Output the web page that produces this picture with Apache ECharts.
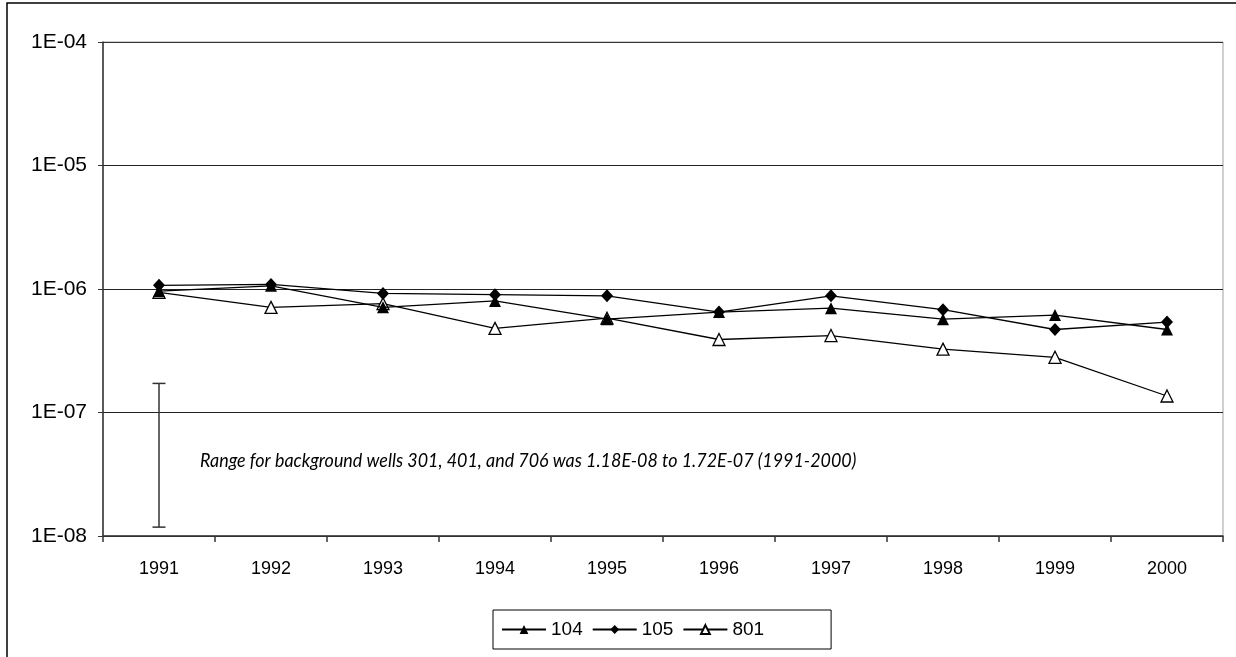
<!DOCTYPE html>
<html>
<head>
<meta charset="utf-8">
<script src="https://cdn.jsdelivr.net/npm/echarts@6/dist/echarts.min.js"></script>
<style>html,body{margin:0;padding:0;background:#fff;}#c{width:1236px;height:657px;}</style>
</head>
<body>
<div id="c"></div>
<script>
const years = ['1991','1992','1993','1994','1995','1996','1997','1998','1999','2000'];
const s104 = [9.6e-7, 1.06e-6, 7.1e-7, 8.0e-7, 5.7e-7, 6.5e-7, 7.0e-7, 5.7e-7, 6.15e-7, 4.7e-7];
const s105 = [1.07e-6, 1.09e-6, 9.2e-7, 9.0e-7, 8.8e-7, 6.5e-7, 8.8e-7, 6.8e-7, 4.7e-7, 5.4e-7];
const s801 = [9.4e-7, 7.1e-7, 7.6e-7, 4.8e-7, 5.8e-7, 3.9e-7, 4.2e-7, 3.26e-7, 2.8e-7, 1.36e-7];
const bgRange = [['1991', 1.18e-8, 1.72e-7]];
const yTickLabels = ['1E-08','1E-07','1E-06','1E-05','1E-04'];
const noteText = 'Range for background wells 301, 401, and 706 was 1.18E-08 to 1.72E-07 (1991-2000)';

const chart = echarts.init(document.getElementById('c'));
const lineW = 1.3;
chart.setOption({
  animation: false,
  textStyle: { fontFamily: 'Liberation Sans' },
  graphic: [
    { type: 'rect', shape: { x: 7, y: 3, width: 1300, height: 700 }, style: { fill: 'none', stroke: '#000', lineWidth: 1.5 }, z: 100 },
    { type: 'text', x: 200, y: 451, scaleX: 0.895, style: { text: noteText, font: 'italic 20px Lato', fill: '#000' } }
  ],
  grid: { left: 103, right: 13, top: 42, bottom: 121, show: true, borderColor: '#a0a0a0', borderWidth: 1 },
  legend: {
    data: ['104', '105', '801'],
    left: 493, top: 610,
    orient: 'horizontal',
    itemWidth: 44, itemHeight: 11, itemGap: 9,
    padding: [10, 67, 10, 8],
    borderColor: '#000', borderWidth: 1,
    textStyle: { fontSize: 19, color: '#000', fontFamily: 'Liberation Sans' }
  },
  xAxis: {
    type: 'category',
    data: years,
    boundaryGap: true,
    axisLine: { lineStyle: { color: '#333', width: 1.5 } },
    axisTick: { show: true, length: 6, lineStyle: { color: '#333', width: 1.5 } },
    axisLabel: { fontSize: 18, color: '#000', margin: 24 },
    splitLine: { show: false }
  },
  yAxis: {
    type: 'log', logBase: 10, min: 1e-8, max: 1e-4,
    axisLine: { show: true, lineStyle: { color: '#333', width: 1.5 } },
    axisTick: { show: true, length: 5, lineStyle: { color: '#333' } },
    axisLabel: {
      fontSize: 21, color: '#000', margin: 16,
      formatter: function (v) {
        const e = Math.round(Math.log10(v));
        return yTickLabels[e + 8];
      }
    },
    splitLine: { show: true, lineStyle: { color: ['#333', '#222', '#222', '#222', '#909090'], width: 1.2 } }
  },
  series: [
    {
      name: '104', type: 'line', data: s104, z: 4,
      symbol: 'triangle', symbolSize: 12,
      color: '#000',
      lineStyle: { color: '#000', width: lineW },
      itemStyle: { color: '#000' }
    },
    {
      name: '105', type: 'line', data: s105, z: 3,
      symbol: 'diamond', symbolSize: [12, 13],
      color: '#000',
      lineStyle: { color: '#000', width: lineW },
      itemStyle: { color: '#000' }
    },
    {
      name: '801', type: 'line', data: s801, z: 2,
      symbol: 'triangle', symbolSize: 12,
      color: '#000',
      lineStyle: { color: '#000', width: lineW },
      itemStyle: { color: '#fff', borderColor: '#000', borderWidth: 1.3 }
    },
    {
      name: 'range', type: 'custom', data: bgRange, z: 1,
      encode: { x: 0, y: [1, 2] },
      renderItem: function (params, api) {
        const lo = api.coord([api.value(0), api.value(1)]);
        const hi = api.coord([api.value(0), api.value(2)]);
        const cap = 6.5;
        const st = { stroke: '#333', lineWidth: 1.5 };
        return {
          type: 'group',
          children: [
            { type: 'line', shape: { x1: lo[0], y1: lo[1], x2: hi[0], y2: hi[1] }, style: st },
            { type: 'line', shape: { x1: lo[0] - cap, y1: lo[1], x2: lo[0] + cap, y2: lo[1] }, style: st },
            { type: 'line', shape: { x1: hi[0] - cap, y1: hi[1], x2: hi[0] + cap, y2: hi[1] }, style: st }
          ]
        };
      }
    }
  ]
});
</script>
</body>
</html>
